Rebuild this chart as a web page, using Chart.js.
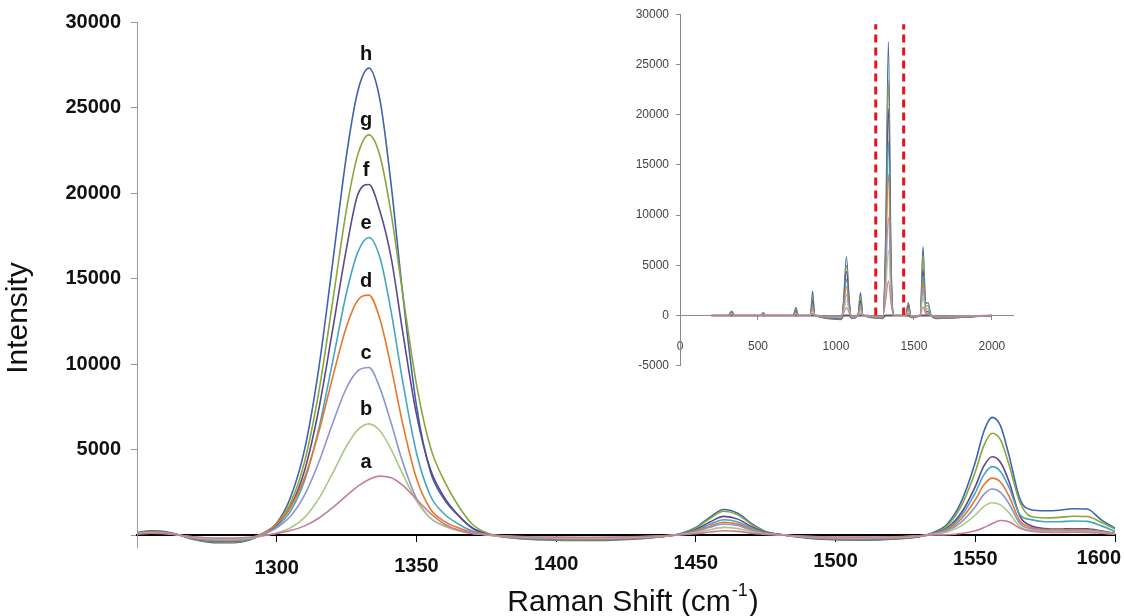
<!DOCTYPE html>
<html>
<head>
<meta charset="utf-8">
<title>Raman spectra</title>
<script src="https://cdn.jsdelivr.net/npm/chart.js@4.4.1/dist/chart.umd.min.js"></script>
<style>
  body { margin: 0; background: #fff; }
  #wrap { position: relative; width: 1124px; height: 616px; background: #fff; }
  #main { position: absolute; left: 0; top: 0; }
  #inset { position: absolute; left: 600px; top: 0; }
</style>
</head>
<body>
<div id="wrap">
  <canvas id="main" width="1124" height="616"></canvas>
  <canvas id="inset" width="430" height="380"></canvas>
</div>
<script>
// Raman shift positions (cm-1) of the zoomed spectra
const shifts = [1250, 1255, 1260, 1265, 1270, 1275, 1280, 1285, 1290, 1295,
    1300, 1305, 1310, 1315, 1320, 1325, 1329, 1333, 1337, 1341,
    1345, 1350, 1355, 1360, 1365, 1370, 1375, 1380, 1390, 1400,
    1410, 1420, 1430, 1440, 1445, 1450, 1455, 1460, 1465, 1470,
    1475, 1480, 1490, 1500, 1510, 1520, 1530, 1535, 1540, 1545,
    1550, 1553, 1556, 1559, 1562, 1566, 1570, 1575, 1580, 1585,
    1590, 1595, 1600];

const seriesH = [150, 250, 200, 0, -250, -400, -450, -450, -310, 70,
    700, 2220, 5020, 9690, 15890, 22250, 25940, 27300, 25390, 20420,
    14230, 7580, 3700, 2080, 1140, 410, 70, -90, -250, -300,
    -320, -300, -220, -60, 110, 440, 1040, 1490, 1270, 660,
    200, 40, -180, -280, -300, -250, -100, 150, 650, 1950,
    4250, 6030, 6880, 6400, 4700, 2100, 1480, 1420, 1450, 1540,
    1520, 900, 400];
const seriesG = [135, 225, 180, 0, -225, -360, -405, -405, -280, 50,
    670, 1900, 4310, 8310, 13620, 19070, 22230, 23400, 22140, 18750,
    14240, 8830, 5140, 3150, 1710, 630, 130, -80, -225, -270,
    -290, -270, -200, -60, 100, 410, 970, 1390, 1190, 610,
    190, 35, -160, -250, -270, -225, -90, 120, 560, 1700,
    3700, 5200, 5950, 5580, 4150, 1900, 1080, 1000, 1030, 1100,
    1080, 750, 350];
const seriesF = [120, 200, 160, 0, -200, -320, -360, -360, -250, 40,
    590, 1680, 3790, 7310, 11990, 16790, 19900, 20500, 18900, 16180,
    11970, 7070, 3840, 2200, 1150, 410, 60, -75, -200, -240,
    -255, -240, -175, -50, 80, 320, 760, 1090, 930, 480,
    150, 30, -145, -225, -240, -200, -80, 100, 430, 1300,
    2830, 4010, 4580, 4260, 3160, 1090, 545, 380, 350, 370,
    360, 245, 95];
const seriesE = [112, 188, 150, 0, -188, -300, -338, -338, -238, 22,
    496, 1416, 3202, 6177, 10127, 14181, 16530, 17400, 16182, 13017,
    9065, 4810, 2295, 1229, 647, 230, 40, -71, -188, -225,
    -240, -225, -165, -50, 66, 262, 624, 891, 764, 393,
    122, 23, -135, -210, -225, -188, -75, 90, 375, 1130,
    2470, 3500, 4000, 3720, 2810, 1190, 900, 780, 780, 820,
    800, 550, 210];
const seriesD = [105, 175, 140, 0, -175, -280, -315, -315, -190, 105,
    646, 1636, 3370, 5993, 9207, 12197, 13733, 14030, 12591, 9773,
    6568, 3317, 1522, 796, 422, 150, 26, -67, -175, -210,
    -224, -210, -154, -48, 55, 218, 520, 743, 637, 328,
    101, 19, -126, -196, -210, -175, -70, 70, 310, 940,
    2060, 2920, 3330, 3100, 2300, 820, 440, 315, 300, 315,
    310, 210, 80];
const seriesC = [90, 150, 120, 0, -150, -240, -270, -270, -181, 38,
    422, 1110, 2347, 4223, 6520, 8612, 9600, 9800, 8563, 6521,
    4309, 2138, 983, 542, 301, 110, 20, -58, -150, -180,
    -192, -180, -132, -41, 47, 189, 450, 644, 552, 284,
    88, 16, -108, -168, -180, -150, -60, 60, 250, 760,
    1660, 2360, 2690, 2500, 1860, 665, 360, 265, 250, 260,
    260, 175, 70];
const seriesB = [75, 125, 100, 0, -125, -200, -225, -225, -180, -56,
    123, 427, 1034, 2113, 3614, 5207, 6149, 6500, 6084, 4993,
    3594, 2007, 999, 516, 254, 88, 13, -50, -125, -150,
    -160, -150, -110, -35, 33, 131, 312, 446, 382, 197,
    61, 11, -90, -140, -150, -125, -50, 40, 180, 535,
    1170, 1660, 1890, 1760, 1310, 480, 275, 210, 200, 210,
    205, 140, 55];
const seriesA = [60, 100, 80, 0, -100, -160, -180, -180, -138, -38,
    91, 259, 535, 980, 1597, 2308, 2846, 3250, 3443, 3343,
    2912, 2094, 1266, 642, 276, 98, 30, -33, -100, -120,
    -128, -120, -88, -29, 18, 73, 173, 248, 212, 109,
    34, 6, -72, -112, -120, -100, -40, 0, 20, 90,
    250, 430, 660, 850, 780, 400, 220, 160, 150, 160,
    155, 105, 40];

const seriesNames = ['a', 'b', 'c', 'd', 'e', 'f', 'g', 'h'];
const seriesColors = ['#c87c98', '#adc884', '#8d93d6', '#e7772a', '#46a5c2', '#5b4a8c', '#8aa53a', '#3f63ad'];
const mainSeries = [seriesA, seriesB, seriesC, seriesD, seriesE, seriesF, seriesG, seriesH];

const xTicks = [1250, 1300, 1350, 1400, 1450, 1500, 1550, 1600];
const xTickLabels = [1300, 1350, 1400, 1450, 1500, 1550, 1600];
const yTicks = [0, 5000, 10000, 15000, 20000, 25000, 30000];

// full spectrum for the inset
const insetX = [200, 310, 331, 350, 515, 534, 550, 725, 743, 760,
    835, 850, 865, 1035, 1048, 1067, 1086, 1100, 1140, 1157,
    1174, 1300, 1318, 1336, 1354, 1372, 1446, 1464, 1482, 1540,
    1558, 1576, 1590, 1610, 1640, 2000];
const insetH = [0, 0, 450, 0, 0, 300, 0, 0, 800, 0, 0, 2450, 0, -400, 1500, 5880, 1500, -300, 0, 2290, 0, -300, 8000, 27300, 5500, 0, 0, 1300, -200, 0, 6860, 1200, 1300, 0, -300, 0];
const insetG = [0, 0, 400, 0, 0, 250, 0, 0, 600, 0, 0, 1900, 0, -350, 1250, 5000, 1250, -250, 0, 1900, 0, -250, 6900, 23400, 4700, 0, 0, 1200, -180, 0, 5950, 900, 1000, 0, -250, 0];
const insetF = [0, 0, 350, 0, 0, 200, 0, 0, 500, 0, 0, 1500, 0, -300, 1100, 4400, 1100, -220, 0, 1500, 0, -220, 6100, 20600, 4100, 0, 0, 1000, -160, 0, 4550, 500, 400, 0, -220, 0];
const insetE = [0, 0, 300, 0, 0, 200, 0, 0, 400, 0, 0, 1200, 0, -260, 900, 3600, 900, -200, 0, 1200, 0, -200, 5100, 17400, 3500, 0, 0, 800, -140, 0, 3950, 700, 650, 0, -200, 0];
const insetD = [0, 0, 250, 0, 0, 150, 0, 0, 300, 0, 0, 900, 0, -220, 700, 2900, 700, -170, 0, 900, 0, -170, 4100, 14100, 2800, 0, 0, 650, -120, 0, 3300, 400, 250, 0, -170, 0];
const insetC = [0, 0, 200, 0, 0, 100, 0, 0, 200, 0, 0, 600, 0, -180, 500, 2100, 500, -140, 0, 650, 0, -140, 2900, 9800, 1900, 0, 0, 500, -100, 0, 2600, 300, 200, 0, -140, 0];
const insetB = [0, 0, 150, 0, 0, 100, 0, 0, 150, 0, 0, 400, 0, -140, 350, 1500, 350, -110, 0, 450, 0, -110, 1900, 6500, 1300, 0, 0, 350, -80, 0, 1870, 200, 150, 0, -110, 0];
const insetA = [0, 0, 100, 0, 0, 50, 0, 0, 100, 0, 0, 200, 0, -100, 200, 800, 200, -80, 0, 250, 0, -80, 1400, 3450, 1100, 0, 0, 200, -60, 0, 880, 150, 100, 0, -80, 0];
const insetBase = [0, 0, 0, 0, 0, 0, 0, 0, 0, 0, 0, 0, 0, -300, 0, 0, 0, -200, 0, 0, 0, -200, 0, 0, 0, 0, 0, 0, -150, 0, 0, 0, 0, 0, -200, 0];
const insetSeries = [insetA, insetB, insetC, insetD, insetE, insetF, insetG, insetH];

const insetXTicks = [0, 500, 1000, 1500, 2000];
const insetYTicks = [-5000, 0, 5000, 10000, 15000, 20000, 25000, 30000];
const windowEdges = [1255, 1434];   // red dashed lines: zoomed region
const windowSpan = [0, 29000];

Chart.defaults.font.family = '"Liberation Sans", Arial, sans-serif';
Chart.defaults.color = '#111';

const toPoints = (xs, ys) => xs.map((x, i) => ({ x: x, y: ys[i] }));

// x tick labels, axis titles and peak letters
const decorations = {
    id: 'decorations',
    afterDraw(chart) {
        const { ctx, chartArea } = chart;
        const x = chart.scales.x, y = chart.scales.y;
        ctx.save();
        ctx.fillStyle = '#111';
        ctx.textBaseline = 'middle';
        ctx.textAlign = 'center';
        ctx.font = 'bold 20px "Liberation Sans", Arial, sans-serif';
        // labels sit a little higher towards the right, like the scan
        xTickLabels.forEach(v => {
            const t = String(v);
            const w = ctx.measureText(t).width;
            const tick = x.getPixelForValue(v);
            const px = Math.min(tick, chart.width - 3 - w / 2);
            const py = 568 - 10 * (tick - 278) / (chartArea.right - 278);
            ctx.fillText(t, px, py);
        });

        // letters above the 1333 peak
        chart.data.datasets.forEach((ds, i) => {
            const top = Math.max(...ds.data.map(p => p.y));
            ctx.fillText(seriesNames[i], x.getPixelForValue(1332), y.getPixelForValue(top) - 14);
        });

        // y title
        ctx.font = '30px "Liberation Sans", Arial, sans-serif';
        ctx.save();
        ctx.translate(19, 318);
        ctx.rotate(-Math.PI / 2);
        ctx.fillText('Intensity', 0, 0);
        ctx.restore();

        // x title with superscript
        const main = 'Raman Shift (cm';
        const wMain = ctx.measureText(main).width;
        ctx.font = '18px "Liberation Sans", Arial, sans-serif';
        const wSup = ctx.measureText('-1').width;
        ctx.font = '30px "Liberation Sans", Arial, sans-serif';
        const wEnd = ctx.measureText(')').width;
        let left = 632 - (wMain + wSup + wEnd) / 2;
        ctx.textAlign = 'left';
        ctx.textBaseline = 'alphabetic';
        ctx.fillText(main, left, 611);
        ctx.font = '18px "Liberation Sans", Arial, sans-serif';
        ctx.fillText('-1', left + wMain + 1, 596);
        ctx.font = '30px "Liberation Sans", Arial, sans-serif';
        ctx.fillText(')', left + wMain + wSup + 2, 611);
        ctx.restore();
    }
};

new Chart(document.getElementById('main'), {
    type: 'line',
    data: {
        datasets: mainSeries.map((s, i) => ({
            label: seriesNames[i],
            data: toPoints(shifts, s),
            borderColor: seriesColors[i],
            borderWidth: 1.6,
            pointRadius: 0,
            cubicInterpolationMode: 'monotone',
            fill: false
        }))
    },
    options: {
        responsive: false,
        animation: false,
        layout: { padding: { left: 0, top: 22, right: 9, bottom: 69 } },
        plugins: { legend: { display: false }, tooltip: { enabled: false } },
        scales: {
            x: {
                type: 'linear',
                min: 1250,
                max: 1600,
                position: { y: 0 },
                afterBuildTicks: s => { s.ticks = xTicks.map(v => ({ value: v })); },
                grid: { drawOnChartArea: false, tickLength: 6, color: '#000' },
                border: { color: '#000', width: 2 },
                ticks: { display: false }
            },
            y: {
                type: 'linear',
                min: -700,
                max: 30000,
                afterBuildTicks: s => { s.ticks = yTicks.map(v => ({ value: v })); },
                afterFit: s => { s.width = 137; },
                grid: { drawOnChartArea: false, tickLength: 6, color: '#999' },
                border: { color: '#999', width: 1 },
                ticks: {
                    padding: 10,
                    color: '#111',
                    font: { size: 20, weight: 'bold' },
                    callback: v => v === 0 ? '' : String(v)
                }
            }
        }
    },
    plugins: [decorations]
});

const insetSets = insetSeries.map((s, i) => ({
    data: toPoints(insetX, s),
    borderColor: seriesColors[i],
    borderWidth: 1.1,
    pointRadius: 0,
    cubicInterpolationMode: 'monotone'
}));
insetSets.push({
    data: toPoints(insetX, insetBase),
    borderColor: '#5a5a5a',
    borderWidth: 2,
    pointRadius: 0,
    cubicInterpolationMode: 'monotone'
});
windowEdges.forEach(e => {
    insetSets.push({
        data: windowSpan.map(v => ({ x: e, y: v })),
        borderColor: '#e3151b',
        borderWidth: 3,
        borderDash: [8, 5],
        pointRadius: 0
    });
});

new Chart(document.getElementById('inset'), {
    type: 'line',
    data: { datasets: insetSets },
    options: {
        responsive: false,
        animation: false,
        layout: { padding: { left: 0, top: 8, right: 17, bottom: 13 } },
        plugins: { legend: { display: false }, tooltip: { enabled: false } },
        scales: {
            x: {
                type: 'linear',
                min: 0,
                max: 2135,
                position: { y: 0 },
                afterBuildTicks: s => { s.ticks = insetXTicks.map(v => ({ value: v })); },
                grid: { drawOnChartArea: false, tickLength: 4, color: '#8a8a8a' },
                border: { color: '#8a8a8a', width: 1 },
                ticks: {
                    padding: 20,
                    maxRotation: 0,
                    color: '#444',
                    font: { size: 12 },
                    callback: v => String(v)
                }
            },
            y: {
                type: 'linear',
                min: -5000,
                max: 30000,
                afterBuildTicks: s => { s.ticks = insetYTicks.map(v => ({ value: v })); },
                afterFit: s => { s.width = 80; },
                grid: { drawOnChartArea: false, tickLength: 4, color: '#8a8a8a' },
                border: { color: '#8a8a8a', width: 1 },
                ticks: {
                    padding: 7,
                    color: '#444',
                    font: { size: 12 },
                    callback: v => String(v)
                }
            }
        }
    }
});
</script>
</body>
</html>
